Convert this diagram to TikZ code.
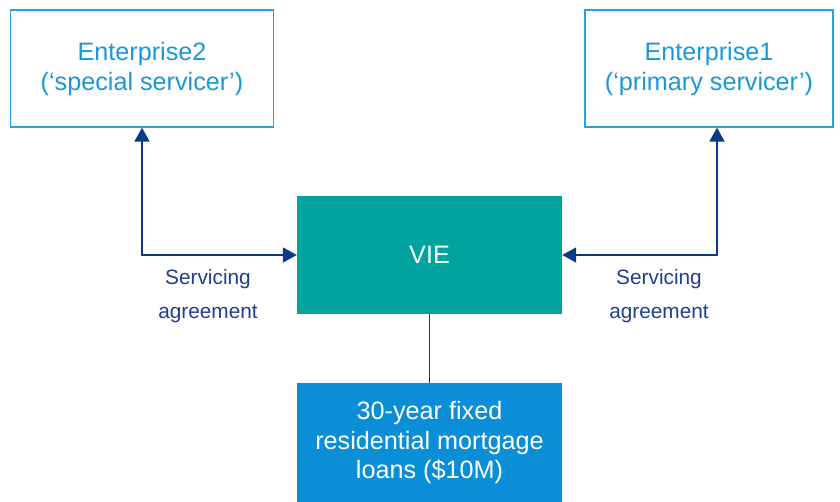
\documentclass[tikz,border=0pt]{standalone}
\usepackage{fontspec}
\setmainfont{Liberation Sans}
\usetikzlibrary{arrows.meta}
\definecolor{bordblue}{HTML}{2AA0E0}
\definecolor{txtblue}{HTML}{1A98D8}
\definecolor{vieteal}{HTML}{00A39E}
\definecolor{loanblue}{HTML}{0A8ED8}
\definecolor{navyline}{HTML}{0A3A8C}
\definecolor{navytext}{HTML}{1F3F8F}
\tikzset{
  entbox/.style={draw=bordblue, line width=1.3pt, fill=white, text=txtblue, minimum height=117pt, inner sep=0pt, align=center, font=\fontsize{25.2}{30}\selectfont},
  fillbox/.style={minimum width=265pt, inner sep=0pt, text=white, align=center, font=\fontsize{25.2}{29.5}\selectfont},
  conn/.style={draw=navyline, line width=1.8pt, {Triangle[width=15pt,length=14pt]}-{Triangle[width=15pt,length=14pt]}},
  plainconn/.style={draw=navyline, line width=1.8pt},
  lbl/.style={text=navytext, align=center, font=\fontsize{20.8}{34}\selectfont}
}
\begin{document}
\begin{tikzpicture}[x=1pt,y=-1pt]
\useasboundingbox[fill=white] (0,0) rectangle (840,502);
\node[entbox, minimum width=263pt] (e2) at (142,68.5) {Enterprise2\\(‘special servicer’)};
\node[entbox, minimum width=248pt] (e1) at (709,68.5) {Enterprise1\\(‘primary servicer’)};
\node[fillbox, fill=vieteal, minimum height=118pt] (vie) at (429.5,255) {VIE};
\node[fillbox, fill=loanblue, minimum height=119pt] (loan) at (429.5,442.5) {30-year fixed\\residential mortgage\\loans (\$10M)};
\coordinate (rc) at (717,255);
\draw[conn] (e2.south) |- (vie.west);
\draw[conn] (e1.south -| rc) -- (rc) -- (vie.east);
\draw[plainconn] (vie.south) -- (loan.north);
\node[lbl] (l2) at (208,296) {Servicing\\agreement};
\node[lbl] (l1) at (659,296) {Servicing\\agreement};
\end{tikzpicture}
\end{document}
